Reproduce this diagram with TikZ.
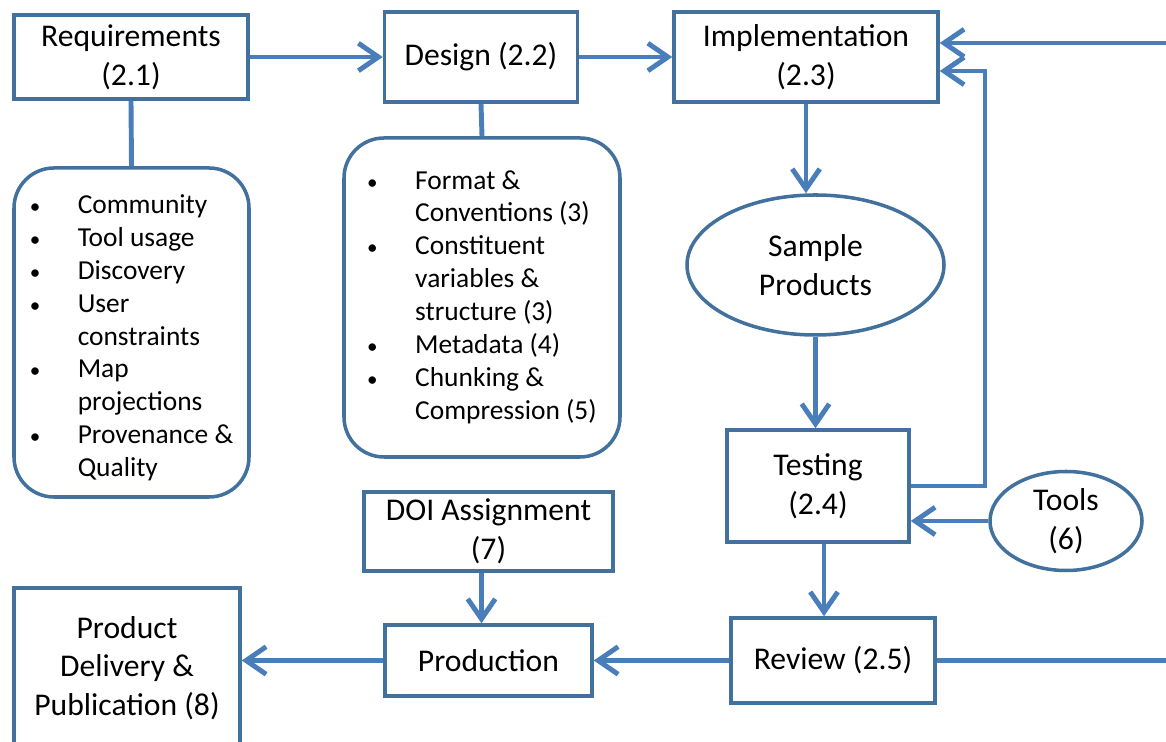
\documentclass[tikz,border=0pt]{standalone}
\usepackage{fontspec}
\setmainfont{Carlito}
\usepackage{xcolor}
\usepackage{tikz}
\usetikzlibrary{positioning,shapes.geometric,arrows.meta}
\definecolor{boxblue}{RGB}{65,113,156}
\definecolor{arrblue}{RGB}{74,126,187}
\newcommand{\bul}{{\fontsize{12}{12}\selectfont\textbullet}}

\begin{document}
\begin{tikzpicture}[font=\fontsize{18}{22}\selectfont,
  stage/.style={draw=boxblue,line width=2pt,fill=white,align=center,inner sep=1pt},
  listbox/.style={stage,rounded corners=0.8cm,font=\fontsize{15.6}{18.7}\selectfont},
  blob/.style={stage,ellipse,inner sep=0pt},
  link/.style={draw=arrblue,line width=2.8pt},
  flow/.style={link,-{Straight Barb[length=0.4cm,width=0.55cm]}}]
\useasboundingbox (0,0) rectangle (23.32,14.84);
  % main stages
  \node[stage,minimum width=4.68cm,minimum height=1.68cm] (req) at (2.62,13.70) {Requirements\\(2.1)};
  \node[stage,minimum width=3.86cm,minimum height=1.80cm] (design) at (9.62,13.70) {Design (2.2)};
  \node[stage,minimum width=5.28cm,minimum height=1.80cm] (impl) at (16.12,13.70) {Implementation\\(2.3)};
  \node[blob,minimum width=5.14cm,minimum height=2.80cm] (sample) at (16.31,9.54) {Sample\\Products};
  \node[stage,minimum width=3.64cm,minimum height=2.24cm] (testing) at (16.36,5.12) {Testing\\(2.4)};
  \node[blob,minimum width=3.04cm,minimum height=1.98cm] (tools) at (21.32,4.42) {Tools\\(6)};
  \node[stage,minimum width=4.08cm,minimum height=1.70cm] (review) at (16.66,1.63) {Review (2.5)};
  \node[stage,minimum width=4.98cm,minimum height=1.58cm] (doi) at (9.77,4.21) {DOI Assignment\\(7)};
  \node[stage,minimum width=4.14cm,minimum height=1.42cm] (prod) at (9.77,1.63) {Production};
  \node[stage,minimum width=4.52cm,minimum height=3.20cm] (deliv) at (2.54,1.48) {Product\\Delivery \&\\Publication (8)};
  % lists
  \node[listbox,minimum width=4.70cm,minimum height=6.58cm] (reqlist) at (2.63,8.19) {%
    \raisebox{-0.12cm}[\height][\depth]{\begin{tabular}{@{}p{0.96cm}@{}l@{}}
    \bul & Community\\
    \bul & Tool usage\\
    \bul & Discovery\\
    \bul & User\\
         & constraints\\
    \bul & Map\\
         & projections\\
    \bul & Provenance \&\\
         & Quality
    \end{tabular}}};
  \node[listbox,minimum width=5.52cm,minimum height=6.38cm] (deslist) at (9.64,8.89) {%
    \begin{tabular}{@{}p{0.96cm}@{}l@{}}
    \bul & Format \&\\
         & Conventions (3)\\
    \bul & Constituent\\
         & variables \&\\
         & structure (3)\\
    \bul & Metadata (4)\\
    \bul & Chunking \&\\
         & Compression (5)
    \end{tabular}};
  \coordinate (loop) at (19.70,13.42);
  \coordinate (feed) at (23.32,13.98);
  \coordinate (out) at (23.32,1.63);
  % connectors
  \draw[link] (req.south) -- (reqlist.north);
  \draw[link] (design.south) -- (deslist.north);
  \draw[flow] (req) -- (design);
  \draw[flow] (design) -- (impl);
  \draw[flow] (impl.south) -- (impl.south |- sample.north);
  \draw[flow] (sample.south) -- (sample.south |- testing.north);
  \draw[flow] (testing.east) -| (loop) -- ([yshift=-0.28cm]impl.east);
  \draw[flow] (feed) -- ([yshift=0.28cm]impl.east);
  \draw[flow] (tools) -- (tools -| testing.east);
  \draw[flow] ([xshift=0.12cm]testing.south) -- ([xshift=0.12cm]testing.south |- review.north);
  \draw[link] (review) -- (out);
  \draw[flow] (review) -- (prod);
  \draw[flow] ([xshift=-0.14cm]doi.south) -- ([xshift=-0.14cm]prod.north);
  \draw[flow] (prod) -- (prod -| deliv.east);
\end{tikzpicture}
\end{document}
